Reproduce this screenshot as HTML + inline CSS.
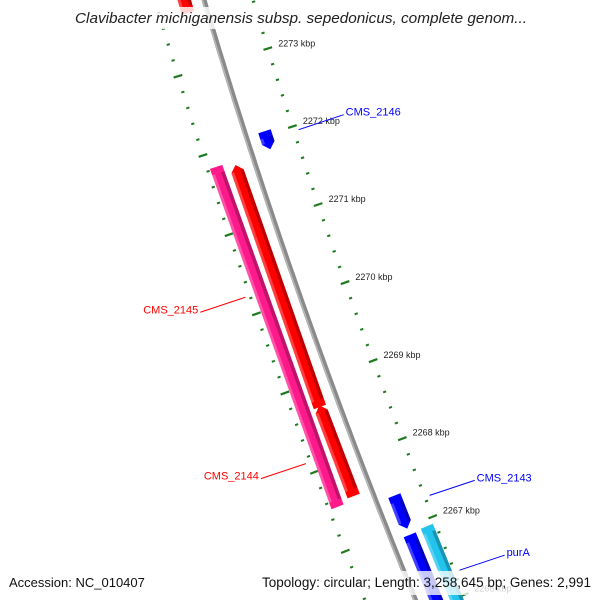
<!DOCTYPE html>
<html><head><meta charset="utf-8"><style>
html,body{margin:0;padding:0;background:#fff;overflow:hidden}
svg{display:block;font-family:"Liberation Sans","DejaVu Sans",sans-serif}
</style></head><body>
<svg id="map" width="600" height="600" viewBox="0 0 600 600" xmlns="http://www.w3.org/2000/svg">
<g id="ticks"></g>
<g id="backbone"></g>
<g id="genes"></g>
<g id="labels"></g>
<rect x="60" y="7" width="480" height="22" fill="#fff" fill-opacity="0.82"/>
<text x="75" y="23" textLength="452" lengthAdjust="spacingAndGlyphs" font-size="15" font-style="italic" fill="#222">Clavibacter michiganensis subsp. sepedonicus, complete genom...</text>
<rect x="0" y="571" width="600" height="24" fill="#fff" fill-opacity="0.78"/>
<text x="9" y="587" font-size="13" fill="#111">Accession: NC_010407</text>
<text x="262" y="587" textLength="329" lengthAdjust="spacingAndGlyphs" font-size="13.5" fill="#111">Topology: circular; Length: 3,258,645 bp; Genes: 2,991</text>
</svg>
<script>
// data
const geneNames = ["CMS_2146","red-top","CMS_2145-cds","CMS_2145","CMS_2144","CMS_2143","purA","purA-cds"];
const geneStart = [2272.05,2274.6,2271.82,2271.77,2268.72,2267.40,2266.90,2266.92];
const geneEnd   = [2271.82,2273.70,2267.52,2268.70,2267.57,2266.98,2265.5,2265.5];
const geneStrand= [1,-1,0,-1,-1,1,1,0];
const geneTrack = [1,-1,-2,-1,-1,1,1,2];
const geneColor = ["#0000ff","#ff0000","#ff1a8c","#ff0000","#ff0000","#0000ff","#0000ff","#22c4ee"];
const majorTicks = [2274,2273,2272,2271,2270,2269,2268,2267,2266];
const tickLabels = ["2274 kbp","2273 kbp","2272 kbp","2271 kbp","2270 kbp","2269 kbp","2268 kbp","2267 kbp","2266 kbp"];
const labelText = ["CMS_2146","CMS_2145","CMS_2144","CMS_2143","purA"];
const labelKbp  = [2271.94,2270.23,2268.13,2267.25,2266.29];
const labelSide = [1,-1,-1,1,1];
const labelColor= ["#0000ff","#ff0000","#ff0000","#0000ff","#0000ff"];

const NS="http://www.w3.org/2000/svg";
function yOf(k){return 141+(2272-k)*78.6;}
function pt(k,d){const y0=yOf(k);const x0=204+0.2965*y0+0.0000935*y0*y0;const s=0.2965+2*0.0000935*y0;const n=Math.sqrt(1+s*s);return [x0+d/n, y0-d*s/n];}
function P(a){return a.map(p=>p[0].toFixed(1)+","+p[1].toFixed(1)).join(" ");}
function mk(tag,attrs,parent){const e=document.createElementNS(NS,tag);for(const k in attrs)e.setAttribute(k,attrs[k]);parent.appendChild(e);return e;}

// ticks
const tg=document.getElementById("ticks");
for(let i=0;i<=45;i++){
  const k=2275-i*0.2; const major=Math.abs(k-Math.round(k))<1e-6;
  [47,-47].forEach(d=>{
    const len=major?4.5:1.6;
    const a=pt(k,d-len),b=pt(k,d+len);
    const l=mk("line",{x1:a[0],y1:a[1],x2:b[0],y2:b[1],stroke:"#1f7a1f","stroke-width":major?2.2:2},tg);
    
    
  });
}
majorTicks.forEach((k,i)=>{
  const p=pt(k,58);
  const t=mk("text",{x:p[0],y:p[1]+1,"font-size":"9",fill:"#222"},tg);
  t.textContent=tickLabels[i];
  
  
});

// backbone
const bg=document.getElementById("backbone");
let pts=[];for(let k=2275;k>=2265.5;k-=0.1)pts.push(pt(k,0));
const bl=mk("polyline",{points:P(pts),fill:"none",stroke:"#8a8a8a","stroke-width":"5"},bg);


const bl2=mk("polyline",{points:P(pts.map((p,i)=>pt(2275-i*0.1,-1.5))),fill:"none",stroke:"#b8b8b8","stroke-width":"1.5"},bg);



// genes
const gg=document.getElementById("genes");
geneNames.forEach((nm,i)=>{
  const d=geneTrack[i]*19, w=13, h=0.08;
  const k1=geneStart[i],k2=geneEnd[i];
  let poly;
  if(geneStrand[i]===-1) poly=[pt(k1-h,d-w/2),pt(k1,d),pt(k1-h,d+w/2),pt(k2,d+w/2),pt(k2,d-w/2)];
  else if(geneStrand[i]===1) poly=[pt(k1,d-w/2),pt(k1,d+w/2),pt(k2+h,d+w/2),pt(k2,d),pt(k2+h,d-w/2)];
  else poly=[pt(k1,d-w/2),pt(k1,d+w/2),pt(k2,d+w/2),pt(k2,d-w/2)];
  const g=mk("polygon",{points:P(poly),fill:geneColor[i]},gg);
  
  
  const s1=mk("polygon",{points:P([pt(k1-h,d+w/2-3.5),pt(k1-h,d+w/2),pt(k2+h,d+w/2),pt(k2+h,d+w/2-3.5)]),fill:"#000","fill-opacity":"0.25"},gg);
  
  
  const s2=mk("polygon",{points:P([pt(k1-h,d-w/2),pt(k1-h,d-w/2+3),pt(k2+h,d-w/2+3),pt(k2+h,d-w/2)]),fill:"#fff","fill-opacity":"0.25"},gg);
  
  
});

// labels
const lg=document.getElementById("labels");
labelText.forEach((t,i)=>{
  const s=labelSide[i];
  const a=pt(labelKbp[i],s*52);
  const b=[a[0]+s*45, a[1]-s*15];
  const l=mk("line",{x1:a[0],y1:a[1],x2:b[0],y2:b[1],stroke:labelColor[i],"stroke-width":"1"},lg);
  
  
  const tx=mk("text",{x:b[0]+(s>0?2:-2),y:b[1]+1,"font-size":"11",fill:labelColor[i],"text-anchor":s>0?"start":"end"},lg);
  tx.textContent=t;
  
  
});
</script>
</body></html>
